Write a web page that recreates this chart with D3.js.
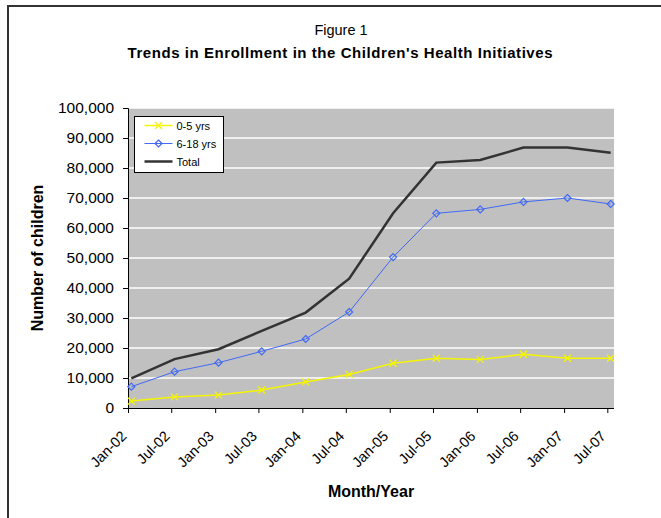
<!DOCTYPE html>
<html>
<head>
<meta charset="utf-8">
<script src="https://cdn.jsdelivr.net/npm/d3@7"></script>
<style>
  body { margin: 0; background: #fff; }
  svg { font-family: "Liberation Sans", Arial, sans-serif; }
</style>
</head>
<body>
<div id="chart"></div>
<script>
// month labels along the x axis
var months = ["Jan-02", "Jul-02", "Jan-03", "Jul-03", "Jan-04", "Jul-04",
              "Jan-05", "Jul-05", "Jan-06", "Jul-06", "Jan-07", "Jul-07"];

// enrollment counts
var age0to5 = [2300, 3700, 4300, 6000, 8700, 11200, 14900, 16600, 16200, 17900, 16600, 16600];
var age6to18 = [7100, 12100, 15100, 18900, 23000, 32000, 50300, 64900, 66200, 68700, 70000, 68000];
var total = [9900, 16300, 19600, 25700, 31800, 43100, 64900, 81800, 82700, 86800, 86800, 85100];

var yTicks = [0, 10000, 20000, 30000, 40000, 50000, 60000, 70000, 80000, 90000, 100000];

var seriesNames = ["0-5 yrs", "6-18 yrs", "Total"];

// svg size
const width = 661, height = 518;
const plot = {left: 128, right: 614, top: 108, bottom: 408};

var svg = d3.select("#chart").append("svg")
    .attr("width", width)
    .attr("height", height);

// outer frame
svg.append("rect")
    .attr("x", 8).attr("y", 6)
    .attr("width", 700).attr("height", 600)
    .attr("fill", "none")
    .attr("stroke", "#333")
    .attr("stroke-width", 2);

// parse "Jan-02" -> tick date, points sit mid month
var parseMonth = d3.timeParse("%b-%y");
var tickDates = months.map(parseMonth);
var pointDates = tickDates.map(function(d){ return d3.timeDay.offset(d, 14); });

var x = d3.scaleTime()
    .domain([tickDates[0], d3.timeDay.offset(tickDates[tickDates.length - 1], 28)])
    .range([plot.left, plot.right]);
var y = d3.scaleLinear().domain([0, 100000]).range([plot.bottom, plot.top]);

// plot background
svg.append("rect")
    .attr("x", plot.left).attr("y", plot.top)
    .attr("width", plot.right - plot.left)
    .attr("height", plot.bottom - plot.top)
    .attr("fill", "#c0c0c0");

// grid lines
svg.append("g").selectAll("line")
    .data(yTicks.slice(1))
    .enter().append("line")
    .attr("x1", plot.left).attr("x2", plot.right)
    .attr("y1", function(d){ return y(d); })
    .attr("y2", function(d){ return y(d); })
    .attr("stroke", "#fff")
    .attr("stroke-width", 1.5);

// y axis
var yaxis = d3.axisLeft(y).tickValues(yTicks).tickSize(5).tickPadding(9)
    .tickFormat(d3.format(","));
var gy = svg.append("g")
    .attr("transform", "translate(" + plot.left + ",0)")
    .call(yaxis);
gy.select(".domain").attr("stroke", "#000");
gy.selectAll(".tick line").attr("stroke", "#000");
gy.selectAll("text")
    .attr("font-size", 15.5)
    .attr("font-family", "Liberation Sans, Arial, sans-serif")
    .attr("fill", "#000");

// x axis
var xaxis = d3.axisBottom(x).tickValues(tickDates).tickSize(5)
    .tickFormat(function(d, i){ return months[i]; });
var gx = svg.append("g")
    .attr("transform", "translate(0," + plot.bottom + ")")
    .call(xaxis);
gx.select(".domain").attr("d", "M" + plot.left + ",0.5H" + plot.right).attr("stroke", "#000");
gx.selectAll(".tick line").attr("stroke", "#000");
gx.selectAll("text")
    .attr("font-size", 14.5)
    .attr("font-family", "Liberation Sans, Arial, sans-serif")
    .attr("fill", "#000")
    .attr("text-anchor", "end")
    .attr("dy", null)
    .attr("y", 0)
    .attr("transform", "translate(-1,29) rotate(-45)");

// lines
var line = d3.line()
    .x(function(d, i){ return x(pointDates[i]); })
    .y(function(d){ return y(d); });

svg.append("path")
    .attr("d", line(total))
    .attr("fill", "none")
    .attr("stroke", "#333")
    .attr("stroke-width", 2.5);

svg.append("path")
    .attr("d", line(age6to18))
    .attr("fill", "none")
    .attr("stroke", "#4169f5")
    .attr("stroke-width", 1);

svg.append("path")
    .attr("d", line(age0to5))
    .attr("fill", "none")
    .attr("stroke", "#f5f500")
    .attr("stroke-width", 1.5);

// diamond markers for 6-18
svg.append("g").selectAll("path")
    .data(age6to18)
    .enter().append("path")
    .attr("d", function(d, i){
        var cx = x(pointDates[i]), cy = y(d);
        return "M" + cx + "," + (cy - 3.5) + "L" + (cx + 3.5) + "," + cy +
               "L" + cx + "," + (cy + 3.5) + "L" + (cx - 3.5) + "," + cy + "Z";
    })
    .attr("fill", "none")
    .attr("stroke", "#4169f5")
    .attr("stroke-width", 1.2);

// x markers for 0-5
function crossPath(cx, cy, r){
    return "M" + (cx - r) + "," + (cy - r) + "L" + (cx + r) + "," + (cy + r) +
           "M" + (cx - r) + "," + (cy + r) + "L" + (cx + r) + "," + (cy - r);
}
svg.append("g").selectAll("path")
    .data(age0to5)
    .enter().append("path")
    .attr("d", function(d, i){ return crossPath(x(pointDates[i]), y(d), 3.5); })
    .attr("stroke", "#f5f500")
    .attr("stroke-width", 1.3);

// titles
svg.append("text")
    .attr("x", 341).attr("y", 35)
    .attr("text-anchor", "middle")
    .attr("font-size", 14.5)
    .text("Figure 1");
svg.append("text")
    .attr("x", 340).attr("y", 58)
    .attr("text-anchor", "middle")
    .attr("font-size", 15)
    .attr("font-weight", "bold")
    .attr("textLength", 425)
    .attr("lengthAdjust", "spacing")
    .text("Trends in Enrollment in the Children's Health Initiatives");

// axis titles
svg.append("text")
    .attr("transform", "translate(43,258) rotate(-90)")
    .attr("text-anchor", "middle")
    .attr("font-size", 16)
    .attr("font-weight", "bold")
    .text("Number of children");
svg.append("text")
    .attr("x", 371).attr("y", 497)
    .attr("text-anchor", "middle")
    .attr("font-size", 16)
    .attr("font-weight", "bold")
    .text("Month/Year");

// legend
var lg = svg.append("g").attr("transform", "translate(134.5,116.5)");
lg.append("rect")
    .attr("width", 89).attr("height", 56)
    .attr("fill", "#fff")
    .attr("stroke", "#000")
    .attr("stroke-width", 1);
var lcolors = ["#f5f500", "#4169f5", "#333"];
var lwidths = [1.5, 1, 2.5];
seriesNames.forEach(function(name, i){
    var ly = 9 + i * 18;
    lg.append("line")
        .attr("x1", 10).attr("x2", 38)
        .attr("y1", ly).attr("y2", ly)
        .attr("stroke", lcolors[i])
        .attr("stroke-width", lwidths[i]);
    if(i == 0){
        lg.append("path").attr("d", crossPath(24, ly, 3.5))
            .attr("stroke", lcolors[i]).attr("stroke-width", 1.3);
    }
    if(i == 1){
        lg.append("path")
            .attr("d", "M24," + (ly - 3.5) + "L27.5," + ly + "L24," + (ly + 3.5) + "L20.5," + ly + "Z")
            .attr("fill", "none").attr("stroke", lcolors[i]).attr("stroke-width", 1.2);
    }
    lg.append("text")
        .attr("x", 42).attr("y", ly + 4)
        .attr("font-size", 11)
        .text(name);
});
</script>
</body>
</html>
